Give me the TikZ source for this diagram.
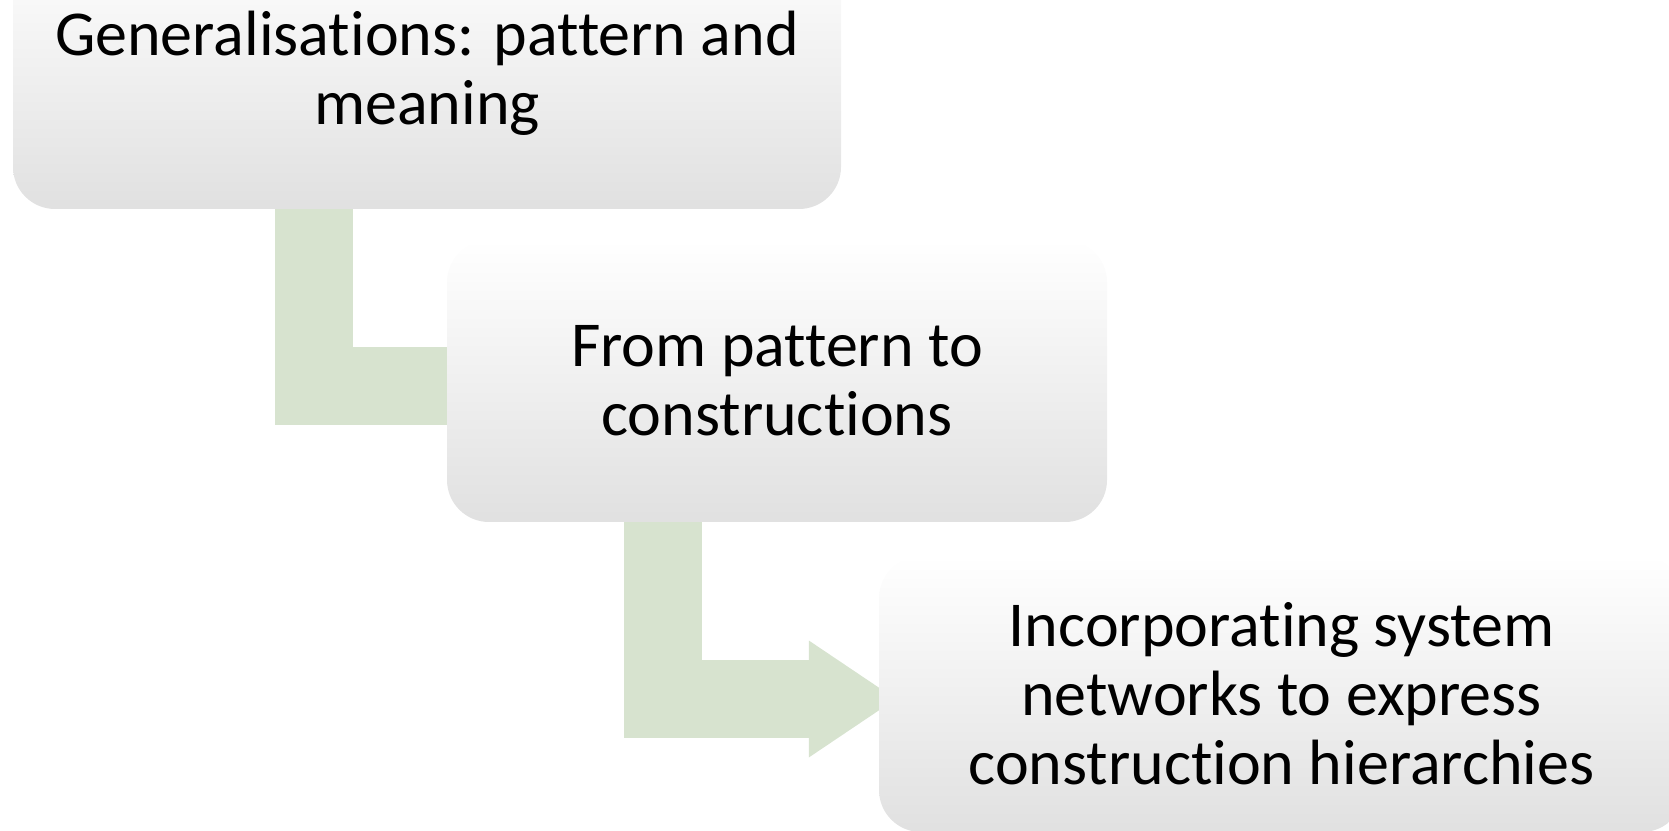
\documentclass[tikz,border=0pt]{standalone}
\usepackage{fontspec}
\setmainfont{Carlito}[Ligatures=NoCommon]
\usetikzlibrary{arrows.meta,backgrounds}
\definecolor{arrowgreen}{RGB}{215,227,207}
\tikzset{stepbox/.style={rounded corners=42pt,top color=white,middle color=white,bottom color=black!12,align=center,inner sep=0pt,font=\fontsize{64}{69}\selectfont}}
\tikzset{bendarrow/.style={draw=arrowgreen,line width=78pt,line join=miter,-{Triangle[length=87pt,width=117pt,line width=0pt]}}}

\begin{document}
\begin{tikzpicture}[x=1pt,y=1pt]
	\path[use as bounding box,clip] (0,0) rectangle (1669,830);
	\node[stepbox,minimum width=828pt,minimum height=271pt] (gen) at (427,756.5) {Generalisations: pattern and\\meaning};
	\node[stepbox,minimum width=660pt,minimum height=282pt] (pat) at (777,449) {From pattern to\\constructions};
	\node[stepbox,minimum width=805pt,minimum height=276pt] (sys) at (1281.5,136) {Incorporating system\\networks to express\\construction hierarchies};
	
	\begin{scope}[on background layer]
		\draw[bendarrow] ([xshift=301pt,yshift=20pt]gen.south west) |- ([xshift=99pt,yshift=-5.5pt]pat.west);
		\draw[bendarrow] ([xshift=216.5pt,yshift=20pt]pat.south west) |- ([xshift=17pt,yshift=-5pt]sys.west);
	\end{scope}
\end{tikzpicture}
\end{document}
